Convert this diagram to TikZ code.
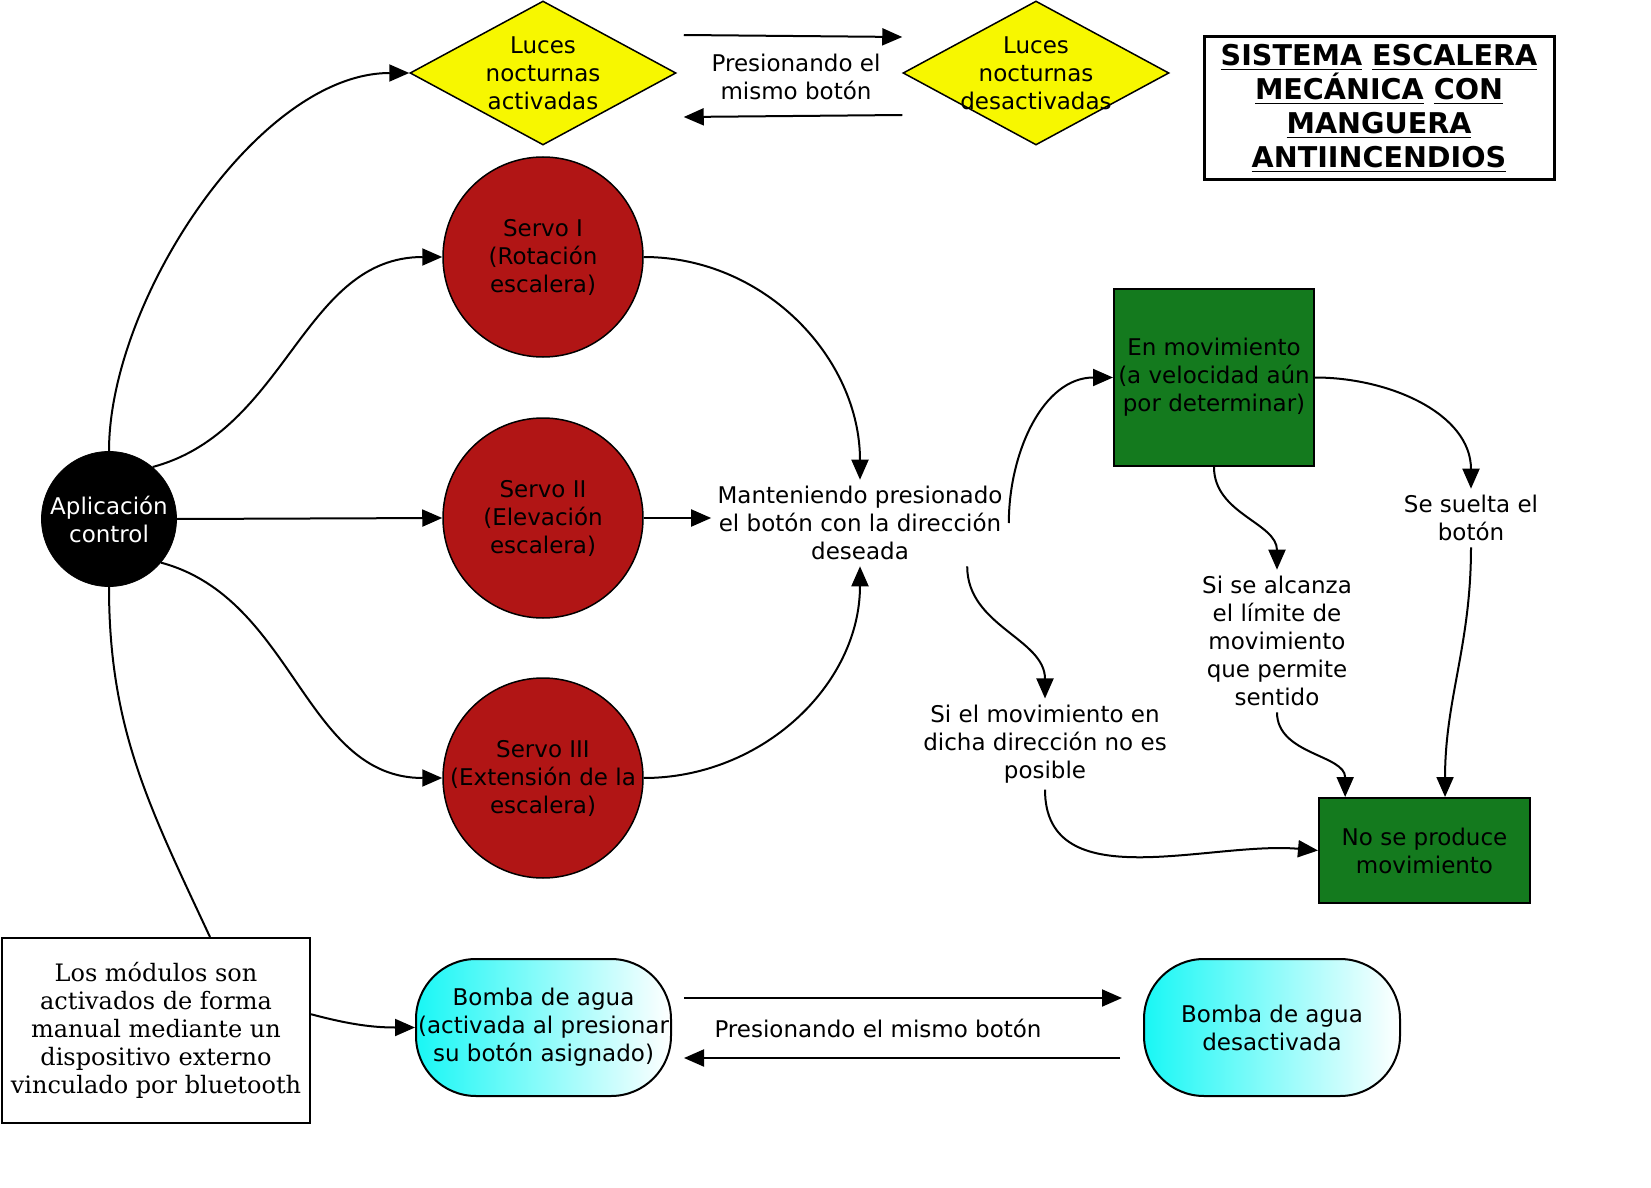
\documentclass[tikz,border=0pt]{standalone}
\usepackage{fontspec}
\setmainfont{DejaVu Sans}
\newfontfamily\maquina{DejaVu Serif}
\usetikzlibrary{arrows.meta,shapes.geometric}
\definecolor{amarilloluz}{RGB}{247,247,0}
\definecolor{rojoservo}{RGB}{177,21,21}
\definecolor{verdemov}{RGB}{20,122,30}
\definecolor{cianbomba}{RGB}{25,247,245}
\tikzset{
	x=0.5pt, y=0.5pt,
	texto/.style={align=center, font=\fontsize{11.5}{14}\selectfont, inner sep=2pt},
	flecha/.style={line width=1pt, -{Triangle[length=10pt,width=8.5pt]}},
	luz/.style={diamond, draw, line width=0.75pt, fill=amarilloluz, minimum width=133pt, minimum height=72pt, inner sep=0pt},
	servo/.style={circle, draw, line width=0.75pt, fill=rojoservo, minimum size=100pt, inner sep=0pt},
	estado/.style={texto, draw, line width=1pt, fill=verdemov, inner sep=0.5pt},
	bomba/.style={texto, draw, line width=1pt, rounded corners=30pt, left color=cianbomba, right color=white, minimum height=68.5pt, inner sep=0pt},
}
\begin{document}
\begin{tikzpicture}
	\useasboundingbox (0,0) rectangle (1651,-1188);
	\node[luz] (lucesOn) at (543,-73) {};
	\node[texto] (lucesOnTxt) at (lucesOn) {Luces\\nocturnas\\activadas};
	\node[luz] (lucesOff) at (1036,-73) {};
	\node[texto] (lucesOffTxt) at (lucesOff) {Luces\\nocturnas\\desactivadas};
	\node[texto] (presionaArriba) at (796,-77) {Presionando el\\mismo botón};
	\node[draw, line width=1.5pt, minimum width=175pt, minimum height=71.5pt, align=center, font=\fontsize{14.3}{17}\selectfont\bfseries] (titulo) at (1379,-108.5) {\underline{SISTEMA} \underline{ESCALERA}\\\underline{MECÁNICA} \underline{CON}\\\underline{MANGUERA}\\\underline{ANTIINCENDIOS}};
	\node[circle, draw, fill=black, texto, text=white, minimum size=67.5pt, inner sep=0pt] (app) at (109,-519) {Aplicación\\control};
	\foreach \i/\y/\t in {1/257/{Servo I\\(Rotación\\escalera)}, 2/518/{Servo II\\(Elevación\\escalera)}, 3/778/{Servo III\\(Extensión de la\\escalera)}}{
		\node[servo] (servo\i) at (543,-\y) {};
		\node[texto] (servoTxt\i) at (servo\i) {\t};
	}
	\node[texto, inner sep=3pt] (mant) at (860,-523) {Manteniendo presionado\\el botón con la dirección\\deseada};
	\node[estado, minimum width=100pt, minimum height=88.5pt] (enmov) at (1214,-377.5) {En movimiento\\(a velocidad aún\\por determinar)};
	\node[estado, minimum width=105.5pt, minimum height=52.5pt] (noprod) at (1424.5,-850.5) {No se produce\\movimiento};
	\node[texto, inner sep=3pt] (imposible) at (1045,-744) {Si el movimiento en\\dicha dirección no es\\posible};
	\node[texto, inner sep=3pt] (limite) at (1277,-641) {Si se alcanza\\el límite de\\movimiento\\que permite\\sentido};
	\node[texto, inner sep=3pt] (suelta) at (1471,-518) {Se suelta el\\botón};
	\node[draw, line width=1pt, minimum width=154pt, minimum height=92.5pt, inner sep=1pt, align=center, font=\maquina\fontsize{12}{14}\selectfont] (modulos) at (156,-1030.5) {Los módulos son\\activados de forma\\manual mediante un\\dispositivo externo\\vinculado por bluetooth};
	\node[bomba, minimum width=127.5pt] (bombaOn) at (543.5,-1027.5) {Bomba de agua\\(activada al presionar\\su botón asignado)};
	\node[bomba, minimum width=128pt] (bombaOff) at (1272,-1027.5) {Bomba de agua\\desactivada};
	\node[texto] (presionaAbajo) at (878,-1028) {Presionando el mismo botón};
	\draw[flecha] ([xshift=3.5pt,yshift=19pt]lucesOn.east) -- ([yshift=18pt]lucesOff.west);
	\draw[flecha] ([yshift=-21pt]lucesOff.west) -- ([xshift=3.5pt,yshift=-22pt]lucesOn.east);
	\draw[flecha] (app.north) to[out=90,in=180,looseness=0.8] (lucesOn.west);
	\draw[flecha] (app.50) to[out=15,in=180] (servo1.west);
	\draw[flecha] (app.east) -- (servo2.west);
	\draw[flecha] (app.-40) to[out=-15,in=180] (servo3.west);
	\draw[line width=1pt] (app.south) to[out=-90,in=115] (modulos.60);
	\draw[flecha] (modulos.6) to[out=-15,in=180] (bombaOn.west);
	\draw[flecha] (servo1.east) to[out=0,in=90] (mant.north);
	\draw[flecha] (servo2.east) -- (mant.west |- servo2.east);
	\draw[flecha] (servo3.east) to[out=0,in=-90] (mant.south);
	\draw[flecha] (mant.east) to[out=90,in=180] (enmov.west);
	\draw[flecha] (mant.-22) to[out=-90,in=90] (imposible.north);
	\draw[flecha] (imposible.south) to[out=-90,in=175] (noprod.west);
	\draw[flecha] (enmov.south) to[out=-90,in=90] (limite.north);
	\draw[flecha] (limite.south) to[out=-90,in=90] (noprod.146);
	\draw[flecha] (enmov.east) to[out=0,in=90] (suelta.north);
	\draw[flecha] (suelta.south) to[out=-90,in=90] (noprod.69);
	\draw[flecha] ([xshift=6pt,yshift=14.75pt]bombaOn.east) -- ([xshift=-10.5pt,yshift=14.75pt]bombaOff.west);
	\draw[flecha] ([xshift=-11.5pt,yshift=-15.25pt]bombaOff.west) -- ([xshift=6pt,yshift=-15.25pt]bombaOn.east);
\end{tikzpicture}
\end{document}
